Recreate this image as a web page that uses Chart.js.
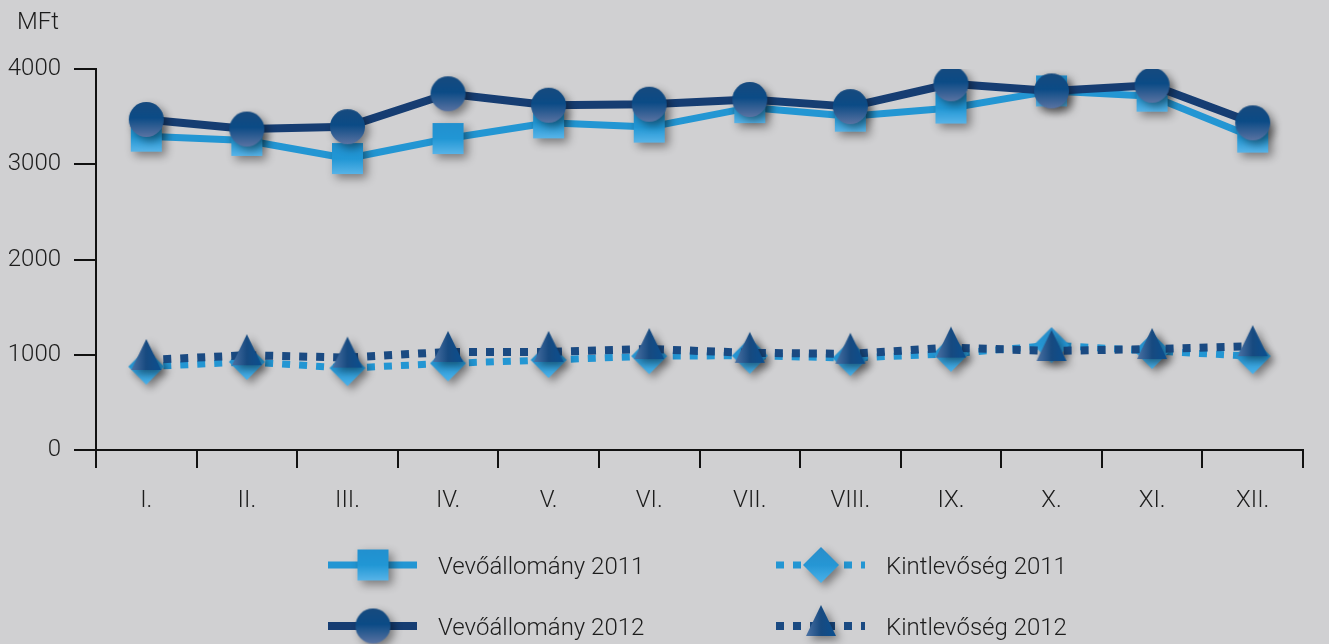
<!DOCTYPE html>
<html>
<head>
<meta charset="utf-8">
<script src="https://cdn.jsdelivr.net/npm/chart.js@4/dist/chart.umd.min.js"></script>
<style>
  html, body { margin: 0; padding: 0; background: #d0d0d2; }
  #wrap { width: 1329px; height: 644px; position: relative; overflow: hidden; }
  canvas { display: block; }
</style>
</head>
<body>
<div id="wrap"><canvas id="c" width="1329" height="644"></canvas></div>
<script>
// ---------------- DATA ----------------
const months = ['I.', 'II.', 'III.', 'IV.', 'V.', 'VI.', 'VII.', 'VIII.', 'IX.', 'X.', 'XI.', 'XII.'];
const yTickValues = [0, 1000, 2000, 3000, 4000];
const unitLabel = 'MFt';
const seriesNames = ['Vevőállomány 2011', 'Vevőállomány 2012', 'Kintlevőség 2011', 'Kintlevőség 2012'];
const vevo2011 = [3295, 3250, 3060, 3270, 3435, 3390, 3595, 3505, 3590, 3770, 3715, 3285];
const vevo2012 = [3470, 3370, 3395, 3740, 3620, 3630, 3680, 3605, 3845, 3770, 3830, 3435];
const kint2011 = [875, 925, 860, 910, 945, 985, 990, 965, 1010, 1100, 1040, 985];
const kint2012 = [945, 995, 970, 1030, 1030, 1060, 1020, 1010, 1075, 1040, 1060, 1090];

// ---------------- STYLE ----------------
const FONT_FAMILY = 'Roboto, "Liberation Sans", "DejaVu Sans", sans-serif';
const TEXT_COLOR = '#1c1c1c';
const AXIS_COLOR = '#111111';
const DARK = '#163d72';
const DARK_DOT = '#1a4a82';
const LIGHT = '#2396d3';

const SH_MARGIN = 16;
function makeMarker(w, h, anchorY, drawShape, gradFn) {
  const halfH = Math.max(anchorY, h - anchorY);
  const cw = w + 2 * SH_MARGIN;
  const ch = 2 * halfH + 2 * SH_MARGIN;
  const c = document.createElement('canvas');
  c.width = cw; c.height = ch;
  const ctx = c.getContext('2d');
  const ox = SH_MARGIN, oy = ch / 2 - anchorY;
  ctx.save();
  ctx.shadowColor = 'rgba(0,0,0,0.42)';
  ctx.shadowBlur = 9;
  ctx.shadowOffsetX = 4;
  ctx.shadowOffsetY = 4;
  ctx.beginPath();
  drawShape(ctx, ox, oy, w, h);
  ctx.fillStyle = gradFn(ctx, ox, oy, w, h);
  ctx.fill();
  ctx.restore();
  return c;
}

const circleImg = makeMarker(35, 35, 17.5,
  (ctx, x, y, w, h) => { ctx.arc(x + w / 2, y + h / 2, w / 2, 0, Math.PI * 2); },
  (ctx, x, y, w, h) => { const g = ctx.createLinearGradient(0, y, 0, y + h);
    g.addColorStop(0, '#174a7e'); g.addColorStop(0.45, '#0b4b86'); g.addColorStop(1, '#5a73a2'); return g; });

const squareImg = makeMarker(31, 31, 15.5,
  (ctx, x, y, w, h) => { ctx.rect(x, y, w, h); },
  (ctx, x, y, w, h) => { const g = ctx.createLinearGradient(0, y, 0, y + h);
    g.addColorStop(0, '#2290cf'); g.addColorStop(0.5, '#2197d5'); g.addColorStop(1, '#58b4e8'); return g; });

const diamondImg = makeMarker(36, 36, 18,
  (ctx, x, y, w, h) => { ctx.moveTo(x + w / 2, y); ctx.lineTo(x + w, y + h / 2); ctx.lineTo(x + w / 2, y + h); ctx.lineTo(x, y + h / 2); ctx.closePath(); },
  (ctx, x, y, w, h) => { const g = ctx.createLinearGradient(0, y, 0, y + h);
    g.addColorStop(0, '#2a8dca'); g.addColorStop(0.5, '#2596d4'); g.addColorStop(1, '#4cb2ea'); return g; });

const triangleImg = makeMarker(30, 31, 21,
  (ctx, x, y, w, h) => { ctx.moveTo(x + w / 2, y); ctx.lineTo(x + w, y + h); ctx.lineTo(x, y + h); ctx.closePath(); },
  (ctx, x, y, w, h) => { const g = ctx.createLinearGradient(x, 0, x + w, 0);
    g.addColorStop(0, '#4c72a4'); g.addColorStop(0.5, '#174a80'); g.addColorStop(1, '#0a4f90'); return g; });

// legend slot positions (layout)
const LEGEND_SLOTS = [[373, 565], [373, 626], [821, 565], [821, 626]];

const legendPlugin = {
  id: 'customLegend',
  afterDraw(chart) {
    const ctx = chart.ctx;
    chart.data.datasets.forEach(ds => {
      const [cx, cy] = LEGEND_SLOTS[ds.legendSlot];
      ctx.save();
      ctx.strokeStyle = ds.borderColor;
      ctx.lineWidth = ds.borderWidth;
      ctx.lineCap = 'butt';
      ctx.setLineDash(ds.borderDash || []);
      ctx.beginPath();
      ctx.moveTo(cx - 45, cy);
      ctx.lineTo(cx + 44, cy);
      ctx.stroke();
      ctx.setLineDash([]);
      const img = ds.pointStyle;
      ctx.drawImage(img, cx - img.width / 2, cy - img.height / 2);
      ctx.fillStyle = TEXT_COLOR;
      ctx.font = '300 24px ' + FONT_FAMILY;
      ctx.textBaseline = 'middle';
      ctx.textAlign = 'left';
      ctx.fillText(ds.label, cx + 65, cy + 3);
      ctx.restore();
    });
    ctx.save();
    ctx.fillStyle = TEXT_COLOR;
    ctx.font = '300 24px ' + FONT_FAMILY;
    ctx.textBaseline = 'middle';
    ctx.textAlign = 'left';
    ctx.fillText(unitLabel, 17, 23);
    ctx.restore();
  }
};

const tickFont = { family: FONT_FAMILY, size: 24, weight: 300 };

new Chart(document.getElementById('c'), {
  type: 'line',
  data: {
    labels: months,
    datasets: [
      { label: seriesNames[1], data: vevo2012, borderColor: DARK, borderWidth: 8, pointStyle: circleImg, legendSlot: 1 },
      { label: seriesNames[3], data: kint2012, borderColor: DARK_DOT, borderWidth: 8, borderDash: [8, 9], pointStyle: triangleImg, legendSlot: 3 },
      { label: seriesNames[0], data: vevo2011, borderColor: LIGHT, borderWidth: 7, pointStyle: squareImg, legendSlot: 0 },
      { label: seriesNames[2], data: kint2011, borderColor: LIGHT, borderWidth: 7, borderDash: [8, 9], pointStyle: diamondImg, legendSlot: 2 }
    ].map(d => Object.assign({ tension: 0, fill: false, pointRadius: 12, pointHoverRadius: 12, borderCapStyle: 'butt', borderJoinStyle: 'round' }, d))
  },
  options: {
    responsive: false,
    animation: false,
    events: [],
    layout: { padding: { left: 0, right: 26, top: 69, bottom: 134 } },
    plugins: { legend: { display: false }, tooltip: { enabled: false } },
    scales: {
      x: {
        type: 'category',
        offset: true,
        grid: { offset: true, drawOnChartArea: false, drawTicks: true, tickLength: 18, color: AXIS_COLOR, lineWidth: 2 },
        border: { display: true, color: AXIS_COLOR, width: 2 },
        ticks: { color: TEXT_COLOR, font: tickFont, padding: 19, maxRotation: 0, autoSkip: false },
        afterFit: s => { s.height = 60; }
      },
      y: {
        min: 0,
        max: 4000,
        afterBuildTicks: s => { s.ticks = yTickValues.map(v => ({ value: v })); },
        grid: { drawOnChartArea: false, drawTicks: true, tickLength: 22, color: AXIS_COLOR, lineWidth: 2 },
        border: { display: true, color: AXIS_COLOR, width: 2 },
        ticks: { color: TEXT_COLOR, font: tickFont, padding: 13, callback: v => String(v) },
        afterFit: s => { s.width = 96; }
      }
    }
  },
  plugins: [legendPlugin]
});
</script>
</body>
</html>
